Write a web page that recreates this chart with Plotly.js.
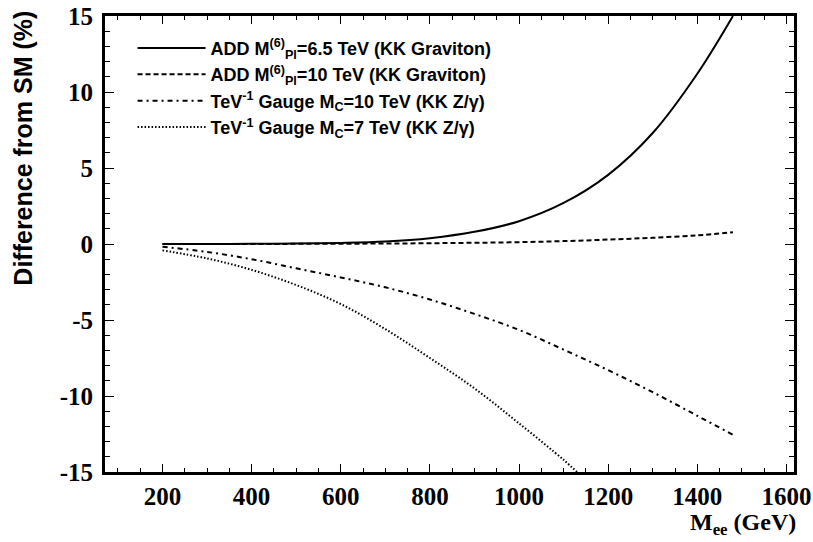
<!DOCTYPE html>
<html>
<head>
<meta charset="utf-8">
<script src="https://cdn.plot.ly/plotly-3.0.1.min.js"></script>
<style>html,body{margin:0;padding:0;background:#fff;} #chart{width:813px;height:542px;}</style>
</head>
<body>
<div id="chart"></div>
<script>
// ---- data ----
const massGeV = [200, 300, 400, 500, 600, 700, 800, 900, 1000, 1100, 1200, 1300, 1400, 1480];
const addMs65 = [0, 0, 0.01, 0.03, 0.07, 0.16, 0.38, 0.8, 1.5, 2.7, 4.55, 7.3, 11.2, 15.0];
const addMs10 = [0, 0, 0, 0.01, 0.02, 0.03, 0.05, 0.08, 0.12, 0.19, 0.29, 0.41, 0.57, 0.78];
const gaugeMc10 = [-0.18, -0.52, -1.0, -1.6, -2.2, -2.85, -3.65, -4.6, -5.65, -6.95, -8.3, -9.75, -11.3, -12.55];
const massGeV7 = [200, 300, 400, 500, 600, 700, 800, 900, 1000, 1100, 1130];
const gaugeMc7 = [-0.42, -0.95, -1.7, -2.7, -3.95, -5.6, -7.5, -9.5, -11.8, -14.2, -15.0];

const yTickVals = [-15, -10, -5, 0, 5, 10, 15];
const yTickText = ['-15', '-10', '-5', '0', '5', '10', '15'];
const xTickVals = [200, 400, 600, 800, 1000, 1200, 1400, 1600];
const xTickText = ['200', '400', '600', '800', '1000', '1200', '1400', '1600'];

const seriesNames = [
  'ADD M<sup>(6)</sup><sub>Pl</sub>=6.5 TeV (KK Graviton)',
  'ADD M<sup>(6)</sup><sub>Pl</sub>=10 TeV (KK Graviton)',
  'TeV<sup>-1</sup> Gauge M<sub>C</sub>=10 TeV (KK Z/\u03B3)',
  'TeV<sup>-1</sup> Gauge M<sub>C</sub>=7 TeV (KK Z/\u03B3)'
];
const xTitle = 'M<sub>ee</sub> (GeV)';
const yTitle = 'Difference from SM (%)';

const mk = (x, y, name, dash, g) => ({
  type: 'scatter', mode: 'lines', x: x, y: y, name: name, legendgroup: g,
  line: {color: 'black', width: 2, dash: dash, shape: 'spline', smoothing: 1.0},
  hoverinfo: 'skip'
});

const traces = [
  mk(massGeV, addMs65, seriesNames[0], 'solid', 'a'),
  mk(massGeV, addMs10, seriesNames[1], '5px,3px', 'b'),
  mk(massGeV, gaugeMc10, seriesNames[2], '5px,4px,2px,4px', 'c'),
  mk(massGeV7, gaugeMc7, seriesNames[3], '1.5px,2px', 'd')
];

const tickFont = {family: 'Liberation Serif', size: 25, weight: 'bold', color: 'black'};

const layout = {
  width: 813, height: 542,
  margin: {l: 105, r: 19, t: 16, b: 70},
  paper_bgcolor: 'white', plot_bgcolor: 'white',
  showlegend: true,
  legend: {
    x: 0.04, y: 0.97, xanchor: 'left', yanchor: 'top',
    bgcolor: 'rgba(0,0,0,0)', borderwidth: 0,
    font: {family: 'Liberation Sans', size: 18, weight: 'bold', color: 'black'},
    itemwidth: 68, tracegroupgap: 1.5, traceorder: 'normal'
  },
  xaxis: {
    range: [71, 1617], showgrid: false, zeroline: false,
    showline: true, linewidth: 3, linecolor: 'black', mirror: 'allticks',
    ticks: 'inside', ticklen: 8, tickwidth: 1, tickcolor: 'black',
    tickmode: 'array', tickvals: xTickVals, ticktext: xTickText, tickfont: tickFont,
    minor: {ticks: 'inside', ticklen: 4, dtick: 50, tick0: 0, tickwidth: 1, tickcolor: 'black', showgrid: false}
  },
  yaxis: {
    range: [-15, 15], showgrid: false, zeroline: false,
    showline: true, linewidth: 3, linecolor: 'black', mirror: 'allticks',
    ticks: 'inside', ticklen: 9, tickwidth: 1, tickcolor: 'black',
    tickmode: 'array', tickvals: yTickVals, ticktext: yTickText, tickfont: tickFont,
    ticklabelstandoff: 4,
    minor: {ticks: 'inside', ticklen: 5, dtick: 1, tick0: 0, tickwidth: 1, tickcolor: 'black', showgrid: false}
  },
  annotations: [
    {text: xTitle, xref: 'paper', yref: 'paper', x: 1.005, y: -0.149, xanchor: 'right', yanchor: 'bottom',
     showarrow: false, borderpad: 0, font: {family: 'Liberation Serif', size: 24, weight: 'bold', color: 'black'}},
    {text: yTitle, xref: 'paper', yref: 'paper', x: -0.119, y: 1.015, xanchor: 'center', yanchor: 'top', textangle: -90,
     showarrow: false, font: {family: 'Liberation Sans', size: 25, weight: 'bold', color: 'black'}}
  ]
};

Plotly.newPlot('chart', traces, layout, {displayModeBar: false, staticPlot: true});
</script>
</body>
</html>
